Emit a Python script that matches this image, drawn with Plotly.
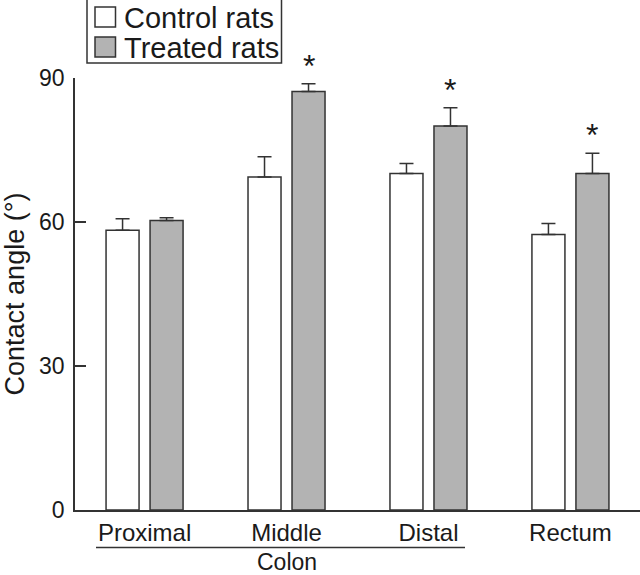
import plotly.graph_objects as go

# ---- data ----
segments = ["Proximal", "Middle", "Distal", "Rectum"]
control_mean = [58.3, 69.4, 70.1, 57.4]
control_sem = [2.4, 4.2, 2.1, 2.3]
treated_mean = [60.3, 87.2, 80.0, 70.1]
treated_sem = [0.6, 1.6, 3.8, 4.2]
significant = [False, True, True, True]
series_names = ["Control rats", "Treated rats"]
y_ticks = [0, 30, 60, 90]
group_label = "Colon"

# ---- layout constants (pixels) ----
W, H = 640, 575
ML, MR, MT, MB = 75, 0, 78, 65
PW, PH = W - ML - MR, H - MT - MB
EDGE = "#333333"
GREY = "#b3b3b3"
TXT = "#1a1a1a"
FONT = "Liberation Sans, Arial, sans-serif"


def px_x(px):
    return (px - ML) / PW


def px_y(py):
    return (H - MB - py) / PH


fig = go.Figure()
fig.add_trace(go.Bar(
    name=series_names[0], x=segments, y=control_mean,
    marker=dict(color="white", line=dict(color=EDGE, width=1.5)),
    error_y=dict(type="data", array=control_sem, arrayminus=[0] * 4,
                 symmetric=False, color=EDGE, thickness=1.5, width=7),
    cliponaxis=False, showlegend=False,
))
fig.add_trace(go.Bar(
    name=series_names[1], x=segments, y=treated_mean,
    marker=dict(color=GREY, line=dict(color=EDGE, width=1.5)),
    error_y=dict(type="data", array=treated_sem, arrayminus=[0] * 4,
                 symmetric=False, color=EDGE, thickness=1.5, width=7),
    cliponaxis=False, showlegend=False,
))

annotations = []
# significance stars (above the treated bars' error bars)
for i, seg in enumerate(segments):
    if significant[i]:
        annotations.append(dict(
            x=seg, xref="x", y=treated_mean[i] + treated_sem[i], yref="y",
            text="*", showarrow=False, xshift=22, yanchor="middle", yshift=18,
            font=dict(family=FONT, size=32, color=TXT)))

# "Colon" group label
annotations.append(dict(
    x="Middle", xref="x", y=px_y(576), yref="paper", text=group_label,
    showarrow=False, yanchor="bottom", borderpad=0,
    font=dict(family=FONT, size=23, color=TXT)))

# manual legend texts
legend_rows = [17, 47]
for name, cy in zip(series_names, legend_rows):
    annotations.append(dict(
        x=px_x(122), xref="paper", y=px_y(cy + 1), yref="paper", text=name,
        showarrow=False, xanchor="left", yanchor="middle",
        font=dict(family=FONT, size=29, color=TXT)))

shapes = [
    # colon bracket line
    dict(type="line", xref="paper", yref="paper",
         x0=px_x(96), x1=px_x(465), y0=px_y(547.5), y1=px_y(547.5),
         line=dict(color=EDGE, width=1.5)),
    # legend box
    dict(type="rect", xref="paper", yref="paper",
         x0=px_x(87), x1=px_x(281.5), y0=px_y(63), y1=px_y(-2),
         line=dict(color=EDGE, width=1.5), fillcolor="white", layer="above"),
]
for fill, cy in zip(["white", GREY], legend_rows):
    shapes.append(dict(type="rect", xref="paper", yref="paper",
                       x0=px_x(95), x1=px_x(115.5),
                       y0=px_y(cy + 10), y1=px_y(cy - 10),
                       line=dict(color=EDGE, width=1.5), fillcolor=fill,
                       layer="above"))

fig.update_layout(
    width=W, height=H,
    margin=dict(l=ML, r=MR, t=MT, b=MB, pad=0),
    paper_bgcolor="white", plot_bgcolor="white",
    barmode="group", bargap=0.38, bargroupgap=0.25,
    showlegend=False,
    font=dict(family=FONT, color=TXT),
    annotations=annotations, shapes=shapes,
    xaxis=dict(
        range=[-0.49, 3.49], showgrid=False, zeroline=False,
        showline=True, linecolor=EDGE, linewidth=1.5,
        ticks="", tickfont=dict(family=FONT, size=24, color=TXT),
        ticklabelstandoff=0,
    ),
    yaxis=dict(
        range=[0, 90], tickvals=y_ticks, showgrid=False, zeroline=False,
        showline=True, linecolor=EDGE, linewidth=1.5,
        ticks="inside", ticklen=11, tickwidth=1.5, tickcolor=EDGE,
        tickfont=dict(family=FONT, size=23, color=TXT),
        ticklabelstandoff=4,
        title=dict(text="Contact angle (°)", standoff=14,
                   font=dict(family=FONT, size=27, color=TXT)),
    ),
)

fig.write_html(
    "out.html",
    config={"displayModeBar": False},
    post_script="document.body.style.margin='0';document.body.style.padding='0';"
                "document.body.style.overflow='hidden';",
)
